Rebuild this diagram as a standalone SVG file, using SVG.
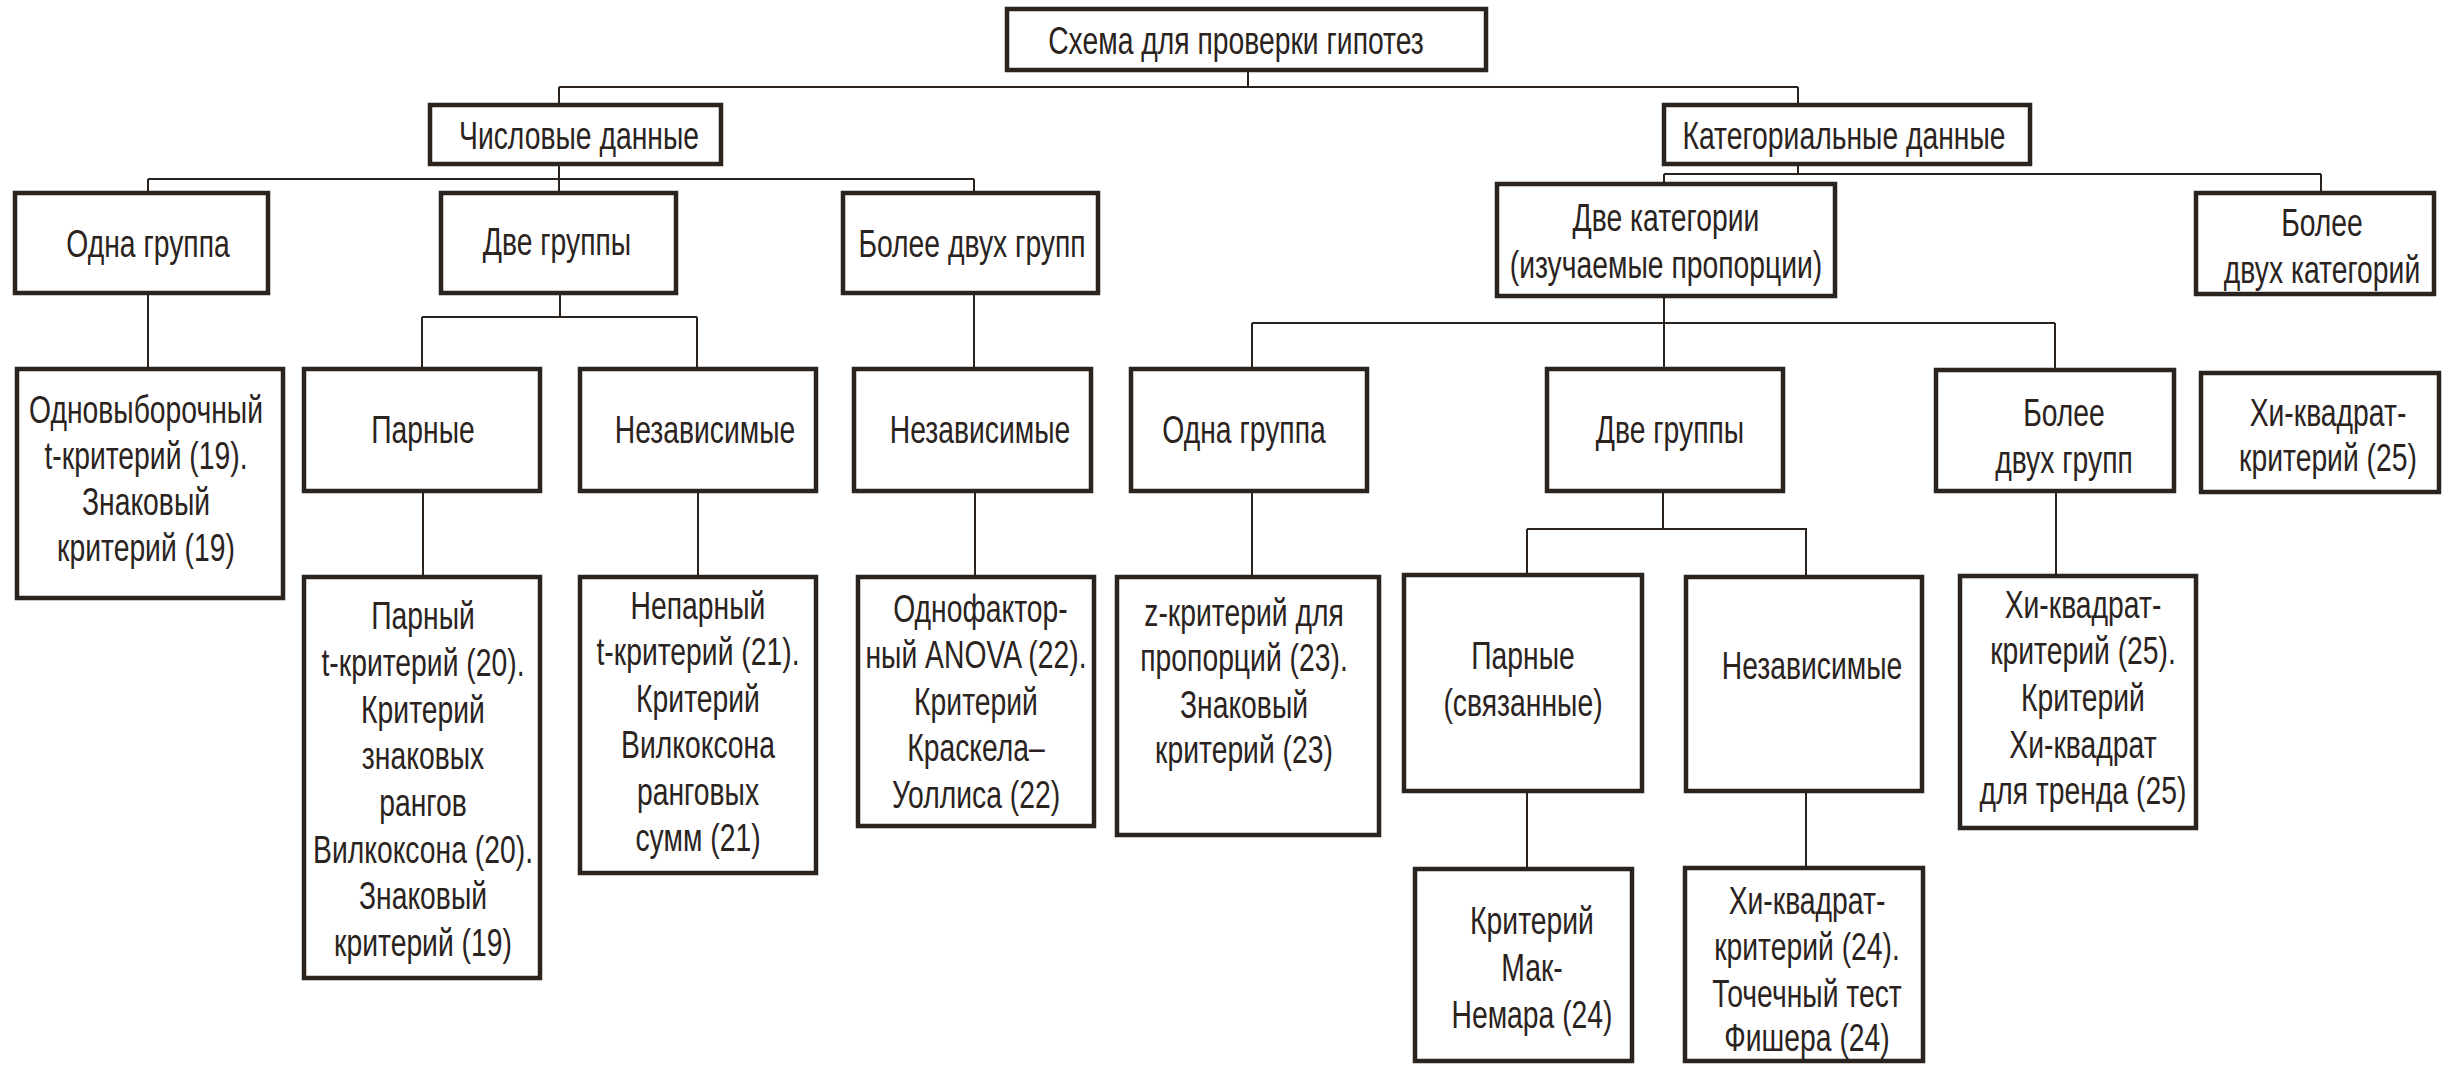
<svg xmlns="http://www.w3.org/2000/svg" width="2450" height="1065" viewBox="0 0 2450 1065">
<style>
.b{fill:#fff;stroke:#2a231e;stroke-width:4.5}
.t{font-family:"Liberation Sans",Arial,sans-serif;font-size:38px;fill:#2a231e;text-anchor:middle}
.c{fill:none;stroke:#2a231e;stroke-width:2}
</style>
<rect width="2450" height="1065" fill="#fff"/>
<g id="connectors">
<path class="c" d="M1248 72V87M559 87H1798M559 87V103M1798 87V103"/>
<path class="c" d="M559 166V191M148 179H974M148 179V191M974 179V191"/>
<path class="c" d="M148 295V367M560 295V317M422 317H697M422 317V367M697 317V367M974 295V367"/>
<path class="c" d="M423 493V575M698 493V575M975 493V575M1252 493V575"/>
<path class="c" d="M1798 166V174M1664 174H2321M1664 174V182M2321 174V191"/>
<path class="c" d="M1664 298V323M1252 323H2055M1252 323V367M1664 323V367M2055 323V368"/>
<path class="c" d="M1663 493V529H1806V575M1527 529H1663M1527 529V573M2056 493V574"/>
<path class="c" d="M1527 793V867M1806 793V866"/>
</g>
<g id="n-title"><rect class="b" x="1007" y="9" width="479" height="61"/><g class="t" transform="matrix(0.745 0 0 1 1236 0)"><text x="0" y="54">Схема для проверки гипотез</text></g></g>
<g id="n-num"><rect class="b" x="430" y="105" width="291" height="59"/><g class="t" transform="matrix(0.745 0 0 1 579 0)"><text x="0" y="149">Числовые данные</text></g></g>
<g id="n-cat"><rect class="b" x="1664" y="105" width="366" height="59"/><g class="t" transform="matrix(0.745 0 0 1 1844 0)"><text x="0" y="149">Категориальные данные</text></g></g>
<g id="n-num-one"><rect class="b" x="15" y="193" width="253" height="100"/><g class="t" transform="matrix(0.745 0 0 1 148 0)"><text x="0" y="257">Одна группа</text></g></g>
<g id="n-num-two"><rect class="b" x="441" y="193" width="235" height="100"/><g class="t" transform="matrix(0.745 0 0 1 557 0)"><text x="0" y="255">Две группы</text></g></g>
<g id="n-num-more"><rect class="b" x="843" y="193" width="255" height="100"/><g class="t" transform="matrix(0.745 0 0 1 972 0)"><text x="0" y="257">Более двух групп</text></g></g>
<g id="n-cat-two"><rect class="b" x="1497" y="184" width="338" height="112"/><g class="t" transform="matrix(0.745 0 0 1 1666 0)"><text x="0" y="231">Две категории</text><text x="0" y="278">(изучаемые пропорции)</text></g></g>
<g id="n-cat-more"><rect class="b" x="2196" y="193" width="238" height="101"/><g class="t" transform="matrix(0.745 0 0 1 2322 0)"><text x="0" y="236">Более</text><text x="0" y="283">двух категорий</text></g></g>
<g id="n-one-sample"><rect class="b" x="17" y="369" width="266" height="229"/><g class="t" transform="matrix(0.745 0 0 1 146 0)"><text x="0" y="423">Одновыборочный</text><text x="0" y="469">t-критерий (19).</text><text x="0" y="515">Знаковый</text><text x="0" y="561">критерий (19)</text></g></g>
<g id="n-paired"><rect class="b" x="304" y="369" width="236" height="122"/><g class="t" transform="matrix(0.745 0 0 1 423 0)"><text x="0" y="443">Парные</text></g></g>
<g id="n-indep"><rect class="b" x="580" y="369" width="236" height="122"/><g class="t" transform="matrix(0.745 0 0 1 705 0)"><text x="0" y="443">Независимые</text></g></g>
<g id="n-indep2"><rect class="b" x="854" y="369" width="237" height="122"/><g class="t" transform="matrix(0.745 0 0 1 980 0)"><text x="0" y="443">Независимые</text></g></g>
<g id="n-cat-one"><rect class="b" x="1131" y="369" width="236" height="122"/><g class="t" transform="matrix(0.745 0 0 1 1244 0)"><text x="0" y="443">Одна группа</text></g></g>
<g id="n-cat-twog"><rect class="b" x="1547" y="369" width="236" height="122"/><g class="t" transform="matrix(0.745 0 0 1 1670 0)"><text x="0" y="443">Две группы</text></g></g>
<g id="n-cat-moreg"><rect class="b" x="1936" y="370" width="238" height="121"/><g class="t" transform="matrix(0.745 0 0 1 2064 0)"><text x="0" y="426">Более</text><text x="0" y="473">двух групп</text></g></g>
<g id="n-chi25"><rect class="b" x="2201" y="373" width="238" height="119"/><g class="t" transform="matrix(0.745 0 0 1 2328 0)"><text x="0" y="426">Хи-квадрат-</text><text x="0" y="471">критерий (25)</text></g></g>
<g id="n-paired-t"><rect class="b" x="304" y="577" width="236" height="401"/><g class="t" transform="matrix(0.745 0 0 1 423 0)"><text x="0" y="629">Парный</text><text x="0" y="676">t-критерий (20).</text><text x="0" y="723">Критерий</text><text x="0" y="769">знаковых</text><text x="0" y="816">рангов</text><text x="0" y="863">Вилкоксона (20).</text><text x="0" y="909">Знаковый</text><text x="0" y="956">критерий (19)</text></g></g>
<g id="n-unpaired"><rect class="b" x="580" y="577" width="236" height="296"/><g class="t" transform="matrix(0.745 0 0 1 698 0)"><text x="0" y="619">Непарный</text><text x="0" y="665">t-критерий (21).</text><text x="0" y="712">Критерий</text><text x="0" y="758">Вилкоксона</text><text x="0" y="805">ранговых</text><text x="0" y="851">сумм (21)</text></g></g>
<g id="n-anova"><rect class="b" x="858" y="577" width="236" height="249"/><g class="t" transform="matrix(0.745 0 0 1 976 0)"><text x="6" y="622">Однофактор-</text><text x="0" y="668">ный ANOVA (22).</text><text x="0" y="715">Критерий</text><text x="0" y="761">Краскела–</text><text x="0" y="808">Уоллиса (22)</text></g></g>
<g id="n-z"><rect class="b" x="1117" y="577" width="262" height="258"/><g class="t" transform="matrix(0.745 0 0 1 1244 0)"><text x="0" y="626">z-критерий для</text><text x="0" y="671">пропорций (23).</text><text x="0" y="718">Знаковый</text><text x="0" y="763">критерий (23)</text></g></g>
<g id="n-cat-paired"><rect class="b" x="1404" y="575" width="238" height="216"/><g class="t" transform="matrix(0.745 0 0 1 1523 0)"><text x="0" y="669">Парные</text><text x="0" y="716">(связанные)</text></g></g>
<g id="n-cat-indep"><rect class="b" x="1686" y="577" width="236" height="214"/><g class="t" transform="matrix(0.745 0 0 1 1812 0)"><text x="0" y="679">Независимые</text></g></g>
<g id="n-chi-trend"><rect class="b" x="1960" y="576" width="236" height="252"/><g class="t" transform="matrix(0.745 0 0 1 2083 0)"><text x="0" y="618">Хи-квадрат-</text><text x="0" y="664">критерий (25).</text><text x="0" y="711">Критерий</text><text x="0" y="758">Хи-квадрат</text><text x="0" y="804">для тренда (25)</text></g></g>
<g id="n-mcnemar"><rect class="b" x="1415" y="869" width="217" height="192"/><g class="t" transform="matrix(0.745 0 0 1 1532 0)"><text x="0" y="934">Критерий</text><text x="0" y="981">Мак-</text><text x="0" y="1028">Немара (24)</text></g></g>
<g id="n-chi24"><rect class="b" x="1685" y="868" width="238" height="193"/><g class="t" transform="matrix(0.745 0 0 1 1807 0)"><text x="0" y="914">Хи-квадрат-</text><text x="0" y="960">критерий (24).</text><text x="0" y="1007">Точечный тест</text><text x="0" y="1051">Фишера (24)</text></g></g>
</svg>
